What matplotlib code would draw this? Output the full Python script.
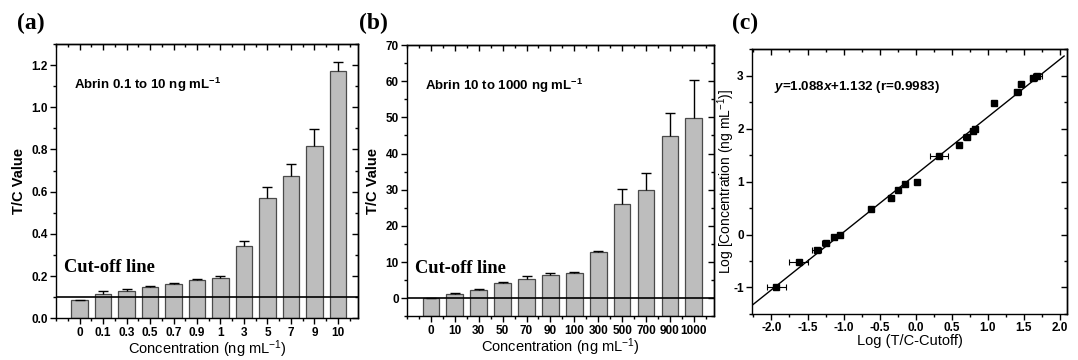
import numpy as np
import matplotlib
matplotlib.use("Agg")
import matplotlib.pyplot as plt
from matplotlib.ticker import MultipleLocator, FixedLocator

plt.rcParams['font.family'] = ['Liberation Sans', 'DejaVu Sans']
plt.rcParams['mathtext.fontset'] = 'custom'
plt.rcParams['mathtext.default'] = 'regular'
plt.rcParams['mathtext.it'] = 'Liberation Sans:italic:bold'
plt.rcParams['axes.linewidth'] = 1.0

# panel (a)
conc_a = ['0', '0.1', '0.3', '0.5', '0.7', '0.9', '1', '3', '5', '7', '9', '10']
tc_a = [0.085, 0.116, 0.129, 0.146, 0.160, 0.179, 0.193, 0.344, 0.570, 0.674, 0.815, 1.172]
err_a = [0.003, 0.014, 0.009, 0.008, 0.008, 0.008, 0.005, 0.022, 0.050, 0.055, 0.083, 0.040]

# panel (b)
conc_b = ['0', '10', '30', '50', '70', '90', '100', '300', '500', '700', '900', '1000']
tc_b = [0.08, 1.2, 2.3, 4.23, 5.34, 6.35, 6.9, 12.7, 26.0, 29.9, 44.9, 49.8]
err_b = [0.0, 0.18, 0.28, 0.27, 0.82, 0.65, 0.28, 0.27, 4.1, 4.7, 6.25, 10.55]

cutoff = 0.1

# panel (c)
log_tc = [-1.935, -1.62, -1.375, -1.245, -1.13, -1.05, -0.615, -0.34, -0.245, -0.153, 0.02,
          0.325, 0.60, 0.71, 0.79, 0.82, 1.09, 1.41, 1.46, 1.63, 1.69]
log_conc = [-1.0, -0.523, -0.301, -0.155, -0.046, 0.0, 0.477, 0.699, 0.845, 0.954, 1.0,
            1.477, 1.699, 1.845, 1.954, 2.0, 2.477, 2.699, 2.845, 2.954, 3.0]
xerr_c = [0.13, 0.13, 0.06, 0.05, 0.03, 0.02, 0.02, 0.04, 0.03, 0.02, 0.01,
          0.12, 0.02, 0.05, 0.03, 0.03, 0.02, 0.05, 0.04, 0.05, 0.06]
slope, intercept = 1.088, 1.132
fit_range = [-2.27, 2.06]

bar_face = '#bdbdbd'
bar_edge = '#4a4a4a'
tick_fs = 8.5
label_fs = 10.5
serif = ['Liberation Serif', 'DejaVu Serif']


def frame(ax, xmajor, xminor, ymajor, yminor):
    # origin style: outward ticks left/bottom, inward ticks top/right
    ax.xaxis.set_major_locator(xmajor)
    ax.xaxis.set_minor_locator(xminor)
    ax.yaxis.set_major_locator(ymajor)
    ax.yaxis.set_minor_locator(yminor)
    ax.tick_params(which='both', direction='out', top=False, right=False, width=1.0, pad=2)
    ax.tick_params(which='major', length=4, labelsize=tick_fs)
    ax.tick_params(which='minor', length=2)
    top = ax.secondary_xaxis('top')
    top.xaxis.set_major_locator(xmajor)
    top.xaxis.set_minor_locator(xminor)
    top.tick_params(which='both', direction='in', labeltop=False, width=1.0)
    top.tick_params(which='major', length=4)
    top.tick_params(which='minor', length=2)
    right = ax.secondary_yaxis('right')
    right.yaxis.set_major_locator(ymajor)
    right.yaxis.set_minor_locator(yminor)
    right.tick_params(which='both', direction='in', labelright=False, width=1.0)
    right.tick_params(which='major', length=4)
    right.tick_params(which='minor', length=2)


def bold_ticks(ax):
    for lab in ax.get_xticklabels() + ax.get_yticklabels():
        lab.set_fontweight('bold')


def bar_panel(ax, cats, vals, errs, base, ylim, ystep, ytext, note):
    x = np.arange(len(cats))
    vals = np.array(vals)
    ax.bar(x, vals - base, bottom=base, width=0.7, color=bar_face,
           edgecolor=bar_edge, linewidth=0.9, zorder=2)
    eb = ax.errorbar(x, vals, yerr=[np.zeros(len(errs)), errs], fmt='none',
                     ecolor='black', elinewidth=1.0, capsize=3.5, capthick=1.0, zorder=3)
    eb[1][0].set_visible(False)
    ax.axhline(cutoff, color='black', lw=1.2, zorder=4)
    ax.set_xlim(-1.0, len(cats) - 0.15)
    ax.set_ylim(*ylim)
    frame(ax, FixedLocator(x), MultipleLocator(0.5),
          MultipleLocator(ystep), MultipleLocator(ystep / 2))
    ax.set_xticks(x)
    ax.set_xticklabels(cats, fontsize=tick_fs)
    ax.set_xlabel('Concentration (ng mL$^{-1}$)', fontsize=label_fs, labelpad=0)
    ax.set_ylabel('T/C Value', fontsize=label_fs, fontweight='bold', labelpad=4)
    ax.text(0.06, 0.85, note, transform=ax.transAxes, fontsize=9.5,
            fontweight='bold', va='center')
    ax.text(0.025, ytext, 'Cut-off line', transform=ax.transAxes, fontsize=13.3,
            fontweight='bold', family=serif, va='center')


fig = plt.figure(figsize=(10.78, 3.6), dpi=100)
ax_a = fig.add_axes([0.052, 0.116, 0.280, 0.762])
ax_b = fig.add_axes([0.3776, 0.121, 0.2848, 0.754])
ax_c = fig.add_axes([0.6976, 0.128, 0.2922, 0.735])

bar_panel(ax_a, conc_a, tc_a, err_a, 0.0, (0.0, 1.3), 0.2, 0.185,
          'Abrin 0.1 to 10 ng mL$^{-1}$')
ax_a.yaxis.set_major_formatter(plt.FormatStrFormatter('%.1f'))
bar_panel(ax_b, conc_b, tc_b, err_b, -5.0, (-5, 70), 10, 0.175,
          'Abrin 10 to 1000 ng mL$^{-1}$')

# panel (c)
fx = np.array(fit_range)
ax_c.plot(fx, slope * fx + intercept, color='black', lw=1.0, zorder=2)
ax_c.errorbar(log_tc, log_conc, xerr=xerr_c, fmt='s', color='black', ms=5,
              elinewidth=0.8, capsize=2.5, capthick=0.8, zorder=3)
ax_c.set_xlim(-2.27, 2.1)
ax_c.set_ylim(-1.5, 3.5)
frame(ax_c, MultipleLocator(0.5), MultipleLocator(0.25),
      MultipleLocator(1.0), MultipleLocator(0.5))
ax_c.xaxis.set_major_formatter(plt.FormatStrFormatter('%.1f'))
ax_c.yaxis.set_major_formatter(plt.FormatStrFormatter('%d'))
ax_c.set_xlabel('Log (T/C-Cutoff)', fontsize=label_fs, labelpad=0)
ax_c.set_ylabel('Log [Concentration (ng mL$^{-1}$)]', fontsize=10)
ax_c.yaxis.set_label_coords(-0.048, 0.5)
ax_c.text(0.07, 0.856, '$\\mathit{y}$=1.088$\\mathit{x}$+1.132 (r=0.9983)',
          transform=ax_c.transAxes, fontsize=9.6, fontweight='bold', va='center')

for ax in (ax_a, ax_b, ax_c):
    bold_ticks(ax)

for lbl, xp in [('(a)', 0.016), ('(b)', 0.333), ('(c)', 0.679)]:
    fig.text(xp, 0.935, lbl, fontsize=17, fontweight='bold', family=serif, va='center')

fig.savefig('out.png', dpi=100)
